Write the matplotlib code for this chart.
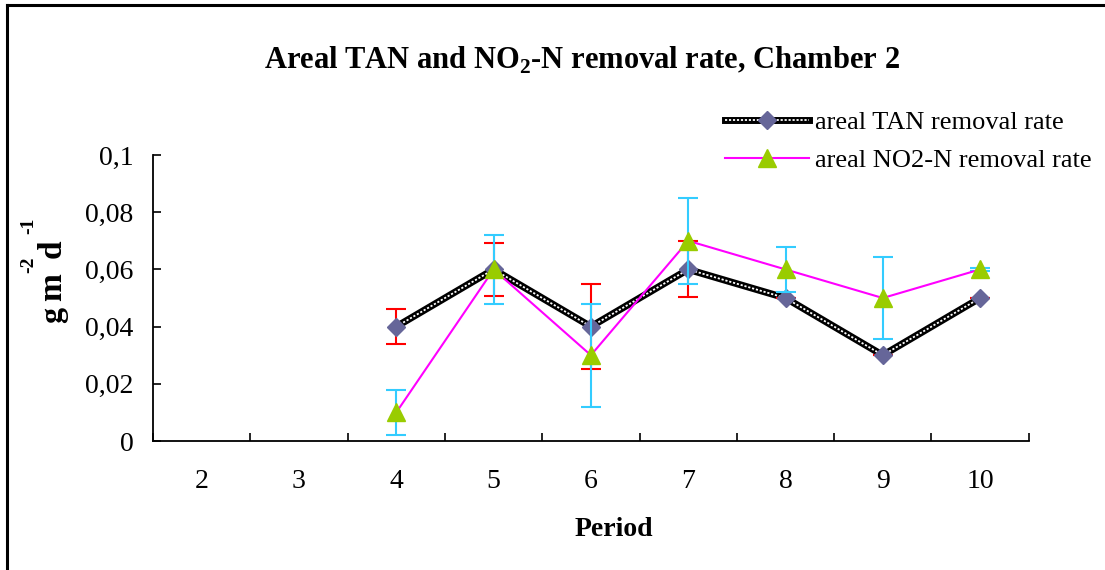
import numpy as np
import matplotlib
matplotlib.use('Agg')
import matplotlib.pyplot as plt
from matplotlib.lines import Line2D
from matplotlib.ticker import FuncFormatter

plt.rcParams['font.family'] = ['Liberation Serif', 'DejaVu Serif']
plt.rcParams['mathtext.fontset'] = 'custom'
plt.rcParams['mathtext.rm'] = 'Liberation Serif'
plt.rcParams['mathtext.bf'] = 'Liberation Serif:bold'

# 数据
periods = ['2', '3', '4', '5', '6', '7', '8', '9', '10']
tan_rate = [np.nan, np.nan, 0.04, 0.06, 0.04, 0.06, 0.05, 0.03, 0.05]
tan_err = [np.nan, np.nan, 0.006, 0.0093, 0.0148, 0.0098, 0.0, 0.0, 0.0]
no2_rate = [np.nan, np.nan, 0.01, 0.06, 0.03, 0.07, 0.06, 0.05, 0.06]
no2_err = [np.nan, np.nan, 0.008, 0.012, 0.018, 0.015, 0.008, 0.0145, 0.0006]

tan_color = '#666699'
no2_color = '#99CC00'

fig = plt.figure(figsize=(11.05, 5.70), dpi=100)
ax = fig.add_axes([0.1385, 0.2263, 0.7925, 0.5017])

x = np.arange(len(periods))

# TAN: 黑白链条线
ax.plot(x, tan_rate, color='black', lw=5, zorder=3, solid_joinstyle='miter')
ax.plot(x, tan_rate, color='white', lw=1.3, dashes=(1.2, 1.0), zorder=3.1)
ax.plot(x, tan_rate, ls='none', marker='D', ms=9.5, mfc=tan_color,
        mec=tan_color, zorder=4)

# 误差线
ax.errorbar(x, tan_rate, yerr=tan_err, fmt='none', ecolor='#FF0000',
            elinewidth=1.5, capsize=7, capthick=1.5, zorder=3.5)
ax.errorbar(x, no2_rate, yerr=no2_err, fmt='none', ecolor='#33CCFF',
            elinewidth=1.5, capsize=7, capthick=1.5, zorder=4.5)

# NO2-N
ax.plot(x, no2_rate, color='#FF00FF', lw=1.5, zorder=5)
ax.plot(x, no2_rate, ls='none', marker='^', ms=13, mfc=no2_color,
        mec=no2_color, zorder=6)

ax.set_xlim(-0.5, len(periods) - 0.5)
ax.set_ylim(0, 0.1)
ax.set_yticks([0, 0.02, 0.04, 0.06, 0.08, 0.1])
ax.yaxis.set_major_formatter(FuncFormatter(
    lambda v, p: '0' if v == 0 else ('%g' % round(v, 3)).replace('.', ',')))
ax.set_xticks(x)
ax.set_xticklabels(periods)
ax.set_xticks(np.arange(-0.5, len(periods)), minor=True)
ax.tick_params(axis='x', which='major', length=0, labelsize=20, pad=20)
ax.tick_params(axis='x', which='minor', direction='in', length=6, width=1.2)
ax.tick_params(axis='y', direction='in', length=6, width=1.2, labelsize=20, pad=14)

for side in ['top', 'right']:
    ax.spines[side].set_visible(False)
for side in ['left', 'bottom']:
    ax.spines[side].set_linewidth(1.3)

fig.text(582 / 1105, 1 - 60 / 570,
         r'Areal TAN and NO$_\mathbf{2}$-N removal rate, Chamber 2',
         ha='center', va='center', fontsize=22, fontweight='bold')
fig.text(614 / 1105, 1 - 529 / 570, 'Period', ha='center', va='center',
         fontsize=20, fontweight='bold')

# 纵轴标题 g m-2 d-1，逐段放置
ylab = [('g', 61, 323, 23), ('m', 61, 301, 24), ('-2', 33, 273, 14),
        ('d', 61, 258, 24), ('-1', 33, 234, 14)]
for txt, px, py, fs in ylab:
    fig.text(px / 1105, 1 - py / 570, txt, rotation=90, rotation_mode='anchor',
             ha='left', va='baseline', fontsize=fs, fontweight='bold')

# 图例
tan_handle = (Line2D([], [], color='black', lw=5),
              Line2D([], [], color='white', lw=1.3, dashes=(1.2, 1.0)),
              Line2D([], [], ls='none', marker='D', ms=9.5, mfc=tan_color, mec=tan_color))
no2_handle = Line2D([], [], color='#FF00FF', lw=1.5, marker='^', ms=13,
                    mfc=no2_color, mec=no2_color)
fig.legend([tan_handle, no2_handle],
           ['areal TAN removal rate', 'areal NO2-N removal rate'],
           loc='upper left', bbox_to_anchor=(725 / 1105, 1 - 111 / 570),
           frameon=False, fontsize=19, handlelength=3.2, handletextpad=0.2,
           borderpad=0, borderaxespad=0, labelspacing=0.55)

# 外框
fig.add_artist(Line2D([7 / 1105, 7 / 1105], [0, 1 - 5 / 570], color='black', lw=2.2))
fig.add_artist(Line2D([7 / 1105, 1], [1 - 5 / 570, 1 - 5 / 570], color='black', lw=2.2))

fig.savefig('out.png', dpi=100)
